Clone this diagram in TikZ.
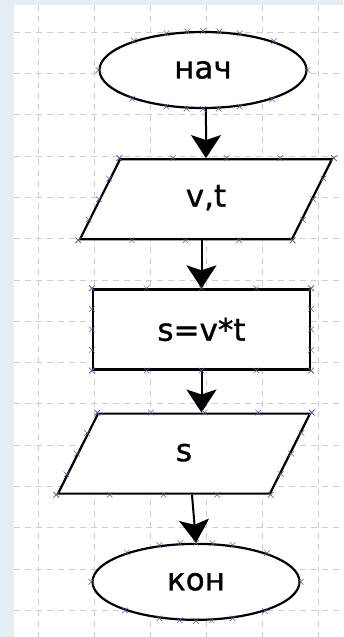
\documentclass[tikz,border=0pt]{standalone}
\usepackage{fontspec}
\setmainfont[FakeBold=1]{DejaVu Sans}
\usetikzlibrary{positioning,arrows.meta,shapes.geometric,calc}
\definecolor{FrameBlue}{HTML}{E4EEF2}
\definecolor{GridGrey}{HTML}{CDCDCD}
\definecolor{MarkBlue}{HTML}{5C5C9A}

\tikzset{
  handle/.pic={\draw[MarkBlue,line width=0.5pt] (-2.8pt,-2.8pt) -- (2.8pt,2.8pt) (-2.8pt,2.8pt) -- (2.8pt,-2.8pt);}
}

\begin{document}
\begin{tikzpicture}[x=1pt, y=-1pt, node distance=48pt,
  every node/.style={font=\fontsize{31}{36}\selectfont},
  term/.style={draw,ellipse,line width=2.2pt,fill=white,minimum width=207pt,minimum height=76pt,inner sep=0pt},
  io/.style={draw,trapezium,trapezium left angle=63.4,trapezium right angle=116.6,trapezium stretches body,line width=2.2pt,fill=white,minimum width=252pt,text height=22pt,text depth=7pt,inner xsep=0pt,inner ysep=25.5pt},
  proc/.style={draw,rectangle,line width=2.2pt,fill=white,minimum width=217pt,minimum height=80pt,inner sep=0pt},
  flow/.style={-{Stealth[length=23pt,width=30pt,inset=5pt]},line width=2pt}]
  % page and grid
  \useasboundingbox (0,0) rectangle (343,637);
  \fill[FrameBlue] (0,0) rectangle (343,637);
  \fill[white] (14,5) rectangle (343,637);
  \foreach \gx in {38,94,150,206,262,318}
    \draw[GridGrey,line width=0.6pt,dash pattern=on 6pt off 5pt] (\gx,5) -- (\gx,637);
  \foreach \k in {0,...,14}
    \draw[GridGrey,line width=0.6pt,dash pattern=on 6pt off 5pt] (14,{32+41.3*\k}) -- (343,{32+41.3*\k});

  % blocks
  \node[term] (start) at (203,70) {нач};
  \node[io,below=49pt of start,xshift=3pt] (input) {v,t};
  \node[proc,below=48pt of input,xshift=-4.5pt] (calc) {s=v*t};
  \node[io,below=42pt of calc,xshift=-17.5pt] (output) {s};
  \node[term,below=48pt of output,xshift=12pt] (stop) {кон};

  % arrows
  \draw[flow] (start.south -| input) -- (input.north);
  \draw[flow] (input.south -| calc) -- (calc.north);
  \draw[flow] (calc.south) -- (calc.south |- output.north);
  \draw[flow] ($(output.south)+(8,0)$) -- (stop.north);

  % selection handles
  \foreach \n in {start,stop}
    \foreach \a in {0,22.5,...,337.5}
      \pic at (\n.\a) {handle};
  \foreach \n in {input,output} {
    \foreach \t in {0,0.25,...,1} {
      \pic at ($(\n.top left corner)!\t!(\n.top right corner)$) {handle};
      \pic at ($(\n.bottom left corner)!\t!(\n.bottom right corner)$) {handle};
      \pic at ($(\n.bottom left corner)!\t!(\n.top left corner)$) {handle};
      \pic at ($(\n.bottom right corner)!\t!(\n.top right corner)$) {handle};
    }
  }
  \foreach \t in {0,0.25,...,1} {
    \pic at ($(calc.north west)!\t!(calc.north east)$) {handle};
    \pic at ($(calc.south west)!\t!(calc.south east)$) {handle};
    \pic at ($(calc.north west)!\t!(calc.south west)$) {handle};
    \pic at ($(calc.north east)!\t!(calc.south east)$) {handle};
  }
\end{tikzpicture}
\end{document}
